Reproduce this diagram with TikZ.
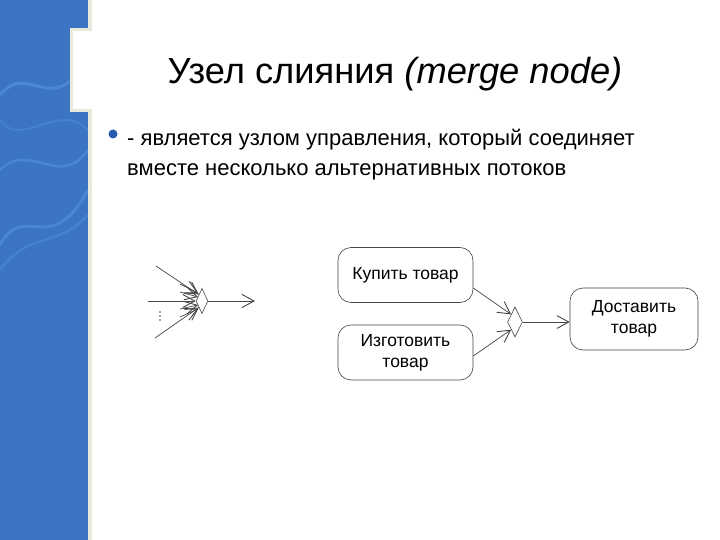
\documentclass[tikz,border=0pt]{standalone}
\usepackage{fontspec}
\setmainfont{Liberation Sans}
\usetikzlibrary{arrows.meta,shapes.geometric}
\definecolor{panelblue}{RGB}{60,116,196}
\definecolor{wave}{RGB}{96,160,228}
\definecolor{edgec}{RGB}{235,232,220}
\definecolor{linec}{RGB}{70,70,70}
\definecolor{bulletc}{RGB}{40,90,175}
\tikzset{
  flow/.style={draw=linec, line width=0.7pt, arrows={-Straight Barb[length=12pt,width=13pt,line width=0.9pt]}},
  actbox/.style={draw=linec, line width=0.6pt, rounded corners=13pt, align=center, font=\fontsize{17.5}{21}\selectfont, inner sep=0pt},
  mergenode/.style={draw=linec, line width=0.6pt, diamond, inner sep=0pt},
}
\begin{document}
\begin{tikzpicture}[x=1pt,y=-1pt]
\useasboundingbox (0,0) rectangle (720,540);
\fill[white] (0,0) rectangle (720,540);
% blue side panel
\fill[edgec] (0,0) rectangle (92,540);
\fill[panelblue] (0,0) rectangle (88,540);
\fill[edgec] (70,28) rectangle (92,112);
\fill[white] (73,31) rectangle (92,109);
\begin{scope}
\clip (0,0) -- (88,0) -- (88,28) -- (70,28) -- (70,112) -- (88,112) -- (88,540) -- (0,540) -- cycle;
\draw[wave, line width=3pt, opacity=0.45] (0,95) .. controls (30,60) and (50,120) .. (88,60);
\draw[wave, line width=2.5pt, opacity=0.4] (0,170) .. controls (30,140) and (60,190) .. (88,150);
\draw[wave, line width=3pt, opacity=0.4] (0,245) .. controls (25,200) and (50,260) .. (88,190);
\draw[wave, line width=2.5pt, opacity=0.3] (0,270) .. controls (30,230) and (55,250) .. (88,215);
\draw[wave, line width=2pt, opacity=0.3] (0,120) .. controls (20,150) and (60,100) .. (88,130);
\end{scope}
% title
\node[anchor=base, font=\fontsize{36.3}{40}\selectfont] (title) at (395,84) {Узел слияния \textit{(merge node)}};
% bullet text
\fill[bulletc] (113,134) circle (4.5);
\node[anchor=base west, font=\fontsize{22}{30}\selectfont, inner sep=0pt] (l1) at (127,146) {- является узлом управления, который соединяет};
\node[anchor=base west, font=\fontsize{22}{30}\selectfont, inner sep=0pt] (l2) at (127,176) {вместе несколько альтернативных потоков};
% left generic merge node
\node[mergenode, minimum width=12pt, minimum height=25pt] (m1) at (202,301) {};
\coordinate (s1) at (156,266);
\coordinate (s2) at (148,301);
\coordinate (s3) at (155,338);
\coordinate (t1) at (255,301);
\draw[flow] (s1) -- (m1.north west);
\draw[flow] (s2) -- (m1.west);
\draw[flow] (s3) -- (m1.south west);
\foreach \ya/\yb in {284/293, 292/297, 309/305, 317/309} {
  \coordinate (aa) at (180,\ya);
  \coordinate (bb) at (198,\yb);
  \draw[flow] (aa) -- (bb);
}
\draw[flow] (m1.east) -- (t1);
\foreach \yy in {312,316,320} \fill[linec] (160,\yy) circle (0.9);
% right example
\node[actbox, minimum width=135pt, minimum height=55pt] (buy) at (405.5,275) {Купить товар};
\node[actbox, minimum width=135pt, minimum height=55pt] (make) at (405.5,352.5) {Изготовить\\товар};
\node[mergenode, minimum width=15pt, minimum height=30pt] (m2) at (515,322) {};
\node[actbox, minimum width=128pt, minimum height=62pt] (deliver) at (634,319) {Доставить\\товар};
\draw[flow] (buy.east |- 0,288) -- (m2.north west);
\draw[flow] (make.east |- 0,356) -- (m2.south west);
\draw[flow] (m2.east) -- (deliver.west |- m2.east);
\end{tikzpicture}
\end{document}
